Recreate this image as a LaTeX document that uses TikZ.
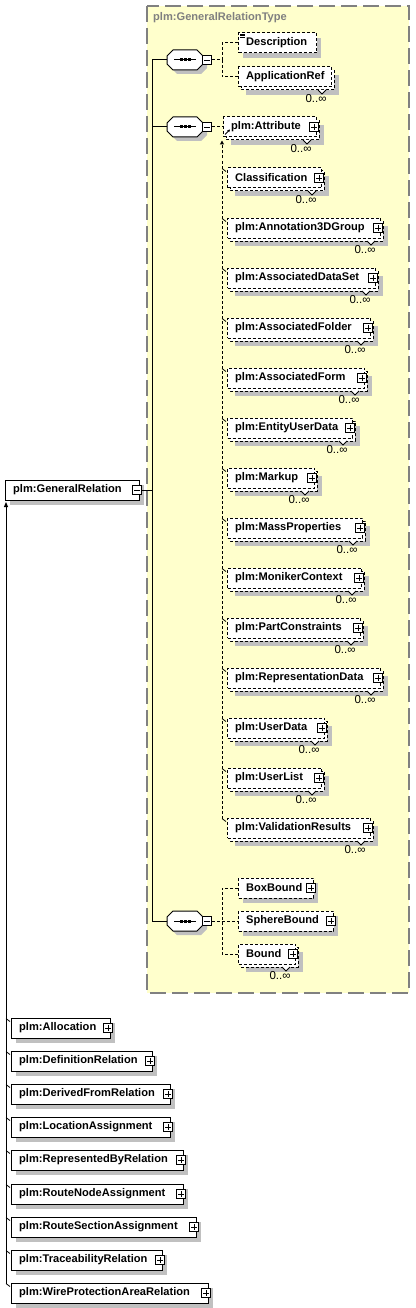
\documentclass[tikz,border=0pt]{standalone}
\usepackage{fontspec}
\setmainfont{Liberation Sans}
\usetikzlibrary{arrows.meta}
\definecolor{bgyellow}{RGB}{255,255,204}
\definecolor{shadowc}{RGB}{192,192,192}
\definecolor{frameg}{RGB}{128,128,128}
\newcommand\efont{\fontsize{11.1}{13}\selectfont\bfseries}
\newcommand\mfont{\fontsize{11.5}{13}\selectfont}
\tikzset{
  ebox/.style={rectangle, draw=black, fill=white, line width=1pt, minimum height=20pt, inner sep=0pt, anchor=west},
  dashbox/.style={dash pattern=on 3pt off 2pt},
  etext/.style={font=\efont, inner sep=0pt, anchor=west, text=black},
  mult/.style={font=\mfont, inner sep=0pt, text=black},
  pbox/.style={rectangle, draw=black, fill=white, line width=0.8pt, minimum size=9pt, inner sep=0pt, solid},
  conn/.style={line width=1pt, draw=black},
  dconn/.style={line width=1pt, draw=black, dash pattern=on 3pt off 2pt},
  tickln/.style={line width=0.8pt, draw=black},
}
\newcommand\plusbox[3]{%
  \node[pbox] (#1) at (#2,#3) {};
  \draw[line width=0.8pt] ([xshift=2pt]#1.west) -- ([xshift=-2pt]#1.east)
    ([yshift=-2pt]#1.north) -- ([yshift=2pt]#1.south);}
\newcommand\minusbox[3]{%
  \node[pbox] (#1) at (#2,#3) {};
  \draw[line width=0.8pt] ([xshift=2pt]#1.west) -- ([xshift=-2pt]#1.east);}
% name, L, yc, R, text, plus(1/0)
\newcommand\elemsolid[6]{%
  \fill[shadowc] (#2+5,#3-5) rectangle (#4+5,#3+15);
  \pgfmathsetmacro\bw{#4-#2}
  \node[ebox, minimum width=\bw pt] (#1) at (#2,#3) {};
  \node[etext] at (#2+8,#3) {#5};
  \ifnum#6=1 \plusbox{#1p}{#4-2}{#3}\fi}
\newcommand\elemdash[6]{%
  \fill[shadowc] (#2+5,#3-5) rectangle (#4+5,#3+15);
  \pgfmathsetmacro\bw{#4-#2}
  \node[ebox, dashbox, minimum width=\bw pt] (#1) at (#2,#3) {};
  \node[etext] at (#2+8,#3) {#5};
  \ifnum#6=1 \plusbox{#1p}{#4-2}{#3}\fi}
\newcommand\elemstack[6]{%
  \fill[shadowc] (#2+8,#3-2) rectangle (#4+8,#3+18);
  \filldraw[fill=white, draw=black, line width=1pt, dashbox] (#2+3,#3-7) rectangle (#4+3,#3+13);
  \filldraw[fill=white, draw=black, line width=0.8pt] (#4-13,#3+13) -- (#4-9,#3+17) -- (#4-5,#3+13);
  \pgfmathsetmacro\bw{#4-#2}
  \node[ebox, dashbox, minimum width=\bw pt] (#1) at (#2,#3) {};
  \node[etext] at (#2+8,#3) {#5};
  \ifnum#6=1 \plusbox{#1p}{#4-2}{#3}\fi
  \node[mult] (#1m) at (#4-15,#3+22) {0..∞};}
\newcommand\octpath[2]{(#1-18,#2-4) -- (#1-12,#2-10) -- (#1+12,#2-10) -- (#1+18,#2-4) -- (#1+18,#2+4) -- (#1+12,#2+10) -- (#1-12,#2+10) -- (#1-18,#2+4) -- cycle}
\newcommand\seqc[3]{%
  \fill[shadowc] \octpath{#2+4}{#3+4};
  \filldraw[fill=white, draw=black, line width=1pt] \octpath{#2}{#3};
  \node[rectangle, minimum width=36pt, minimum height=20pt, inner sep=0pt, draw=none] (#1) at (#2,#3) {};
  \draw[line width=1pt] (#2-11,#3) -- (#2+11,#3);
  \fill (#2-5.5,#3-1.5) rectangle ++(3,3);
  \fill (#2-1.5,#3-1.5) rectangle ++(3,3);
  \fill (#2+2.5,#3-1.5) rectangle ++(3,3);
  \minusbox{#1m}{#2+22}{#3}}
\begin{document}
\begin{tikzpicture}[x=1pt,y=-1pt]
\useasboundingbox (0,0) rectangle (415,1308);
\filldraw[fill=bgyellow, draw=frameg, line width=1.2pt, dash pattern=on 16pt off 6pt] (147,6) rectangle (409,993);
\node[font=\efont, text=frameg, anchor=west, inner sep=0pt] (ttl) at (153,18) {plm:GeneralRelationType};

% main element
\elemsolid{gr}{5}{490}{139}{plm:GeneralRelation}{0}
\minusbox{grm}{137}{490}

% compositors
\seqc{sa}{185}{60}
\seqc{sb}{185}{127}
\seqc{sc}{185}{921}

% sequence 1
\elemdash{desc}{238}{43}{316}{Description}{0}
\draw[line width=0.6pt] (240,34) -- (245,34) (240,35.7) -- (245,35.7) (240,37.4) -- (245,37.4);
\elemstack{appref}{238}{77}{331}{ApplicationRef}{0}

% sequence 2
\elemstack{attr}{223}{127}{316}{plm:Attribute}{1}
\elemstack{clas}{227}{178}{321}{Classification}{1}
\elemstack{ann}{227}{228}{380}{plm:Annotation3DGroup}{1}
\elemstack{ads}{227}{278}{375}{plm:AssociatedDataSet}{1}
\elemstack{afo}{227}{328}{370}{plm:AssociatedFolder}{1}
\elemstack{afm}{227}{378}{364}{plm:AssociatedForm}{1}
\elemstack{eud}{227}{428}{352}{plm:EntityUserData}{1}
\elemstack{mkp}{227}{478}{314}{plm:Markup}{1}
\elemstack{mpr}{227}{528}{362}{plm:MassProperties}{1}
\elemstack{mon}{227}{578}{361}{plm:MonikerContext}{1}
\elemstack{pco}{227}{628}{360}{plm:PartConstraints}{1}
\elemstack{rda}{227}{678}{380}{plm:RepresentationData}{1}
\elemstack{uda}{227}{728}{324}{plm:UserData}{1}
\elemstack{uli}{227}{778}{321}{plm:UserList}{1}
\elemstack{vre}{227}{828}{370}{plm:ValidationResults}{1}
\draw[line width=0.8pt, -{Triangle[length=2.5pt,width=2.5pt]}] ([xshift=2pt,yshift=3pt]attr.south west) -- ++(5,-5);

% sequence 3
\elemdash{bbo}{238}{888}{313}{BoxBound}{1}
\elemdash{sbo}{238}{921}{333}{SphereBound}{1}
\elemstack{bnd}{238}{954}{295}{Bound}{1}

% derived types
\elemsolid{d1}{11}{1028}{110}{plm:Allocation}{1}
\elemsolid{d2}{11}{1061}{152}{plm:DefinitionRelation}{1}
\elemsolid{d3}{11}{1094}{170}{plm:DerivedFromRelation}{1}
\elemsolid{d4}{11}{1127}{170}{plm:LocationAssignment}{1}
\elemsolid{d5}{11}{1160}{183}{plm:RepresentedByRelation}{1}
\elemsolid{d6}{11}{1194}{183}{plm:RouteNodeAssignment}{1}
\elemsolid{d7}{11}{1227}{196}{plm:RouteSectionAssignment}{1}
\elemsolid{d8}{11}{1260}{162}{plm:TraceabilityRelation}{1}
\elemsolid{d9}{11}{1293}{208}{plm:WireProtectionAreaRelation}{1}

% connectors: trunk
\coordinate (tr) at (152,60);
\draw[conn] (grm.east) -- (grm.east -| tr);
\draw[conn] (sa.west) -- (sa.west -| tr) -- (sc.west -| tr) -- (sc.west);
\draw[conn] (sb.west) -- (sb.west -| tr);

% sequence 1 connectors
\coordinate (j1) at (222,60);
\draw[dconn] (sam.east) -- (j1);
\draw[dconn] (desc.west) -| (j1);
\draw[dconn] (appref.west) -| (j1);

% sequence 2 connectors
\draw[dconn] (sbm.east) -- (attr.west);
\draw[dconn, -{Triangle[length=4pt,width=4pt]}] ([xshift=-5pt,yshift=-1pt]vre.north west) -- ([xshift=-1pt,yshift=-3pt]attr.south west);
\foreach \n in {clas,ann,ads,afo,afm,eud,mkp,mpr,mon,pco,rda,uda,uli,vre}
  \draw[tickln] ([xshift=-5pt,yshift=-1pt]\n.north west) -- ([xshift=-1pt,yshift=-4pt]\n.north west);

% sequence 3 connectors
\coordinate (j3) at (222,921);
\draw[dconn] (scm.east) -- (sbo.west);
\draw[dconn] (bbo.west) -| (j3);
\draw[dconn] (bnd.west) -| (j3);

% derivation connectors
\draw[conn, -{Triangle[length=5pt,width=4pt]}] ([xshift=-5pt,yshift=-1pt]d9.north west) -- ([xshift=1pt,yshift=-1.5pt]gr.south west);
\foreach \n in {d1,d2,d3,d4,d5,d6,d7,d8,d9}
  \draw[tickln] ([xshift=-5pt,yshift=-1pt]\n.north west) -- ([xshift=-1pt,yshift=-4pt]\n.north west);
\end{tikzpicture}
\end{document}
